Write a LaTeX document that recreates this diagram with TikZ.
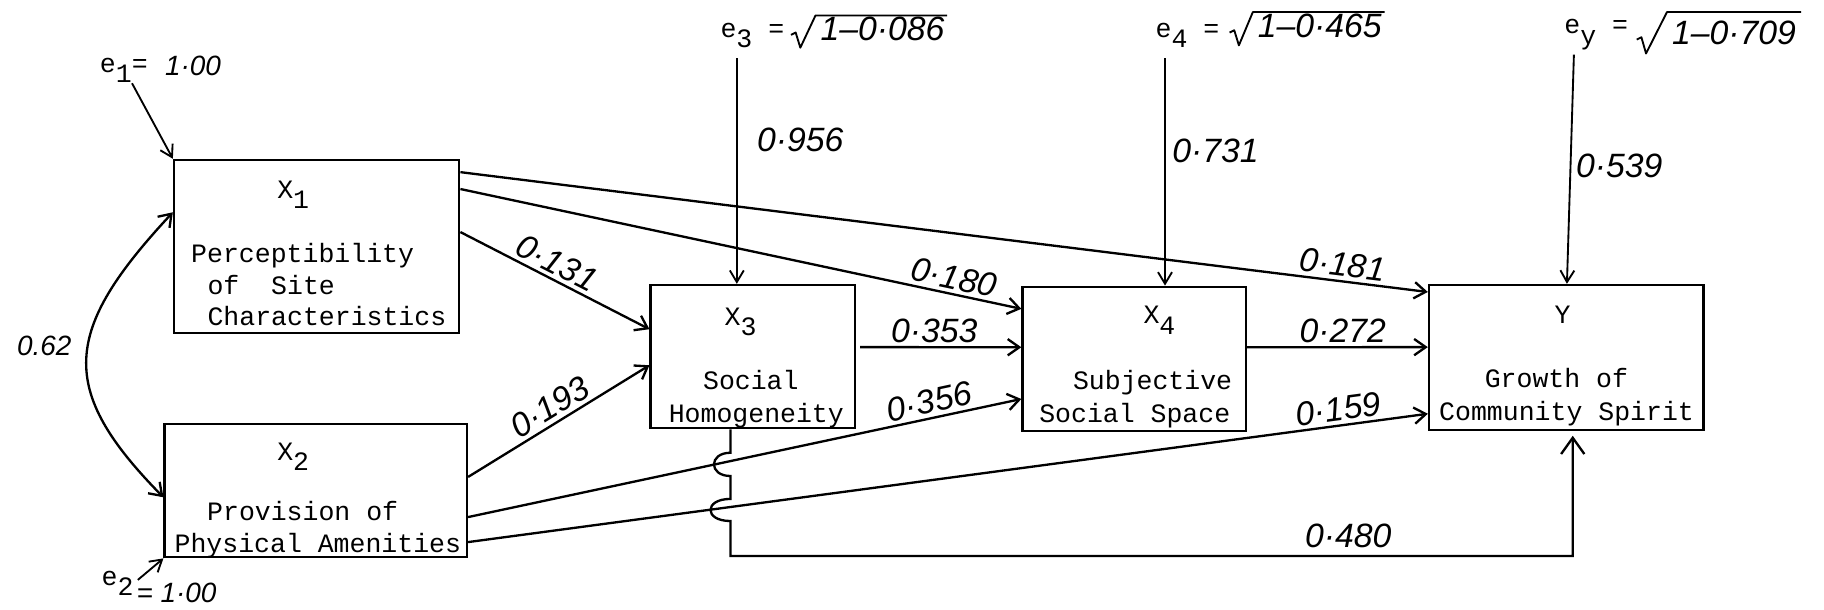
\documentclass[tikz,border=0pt]{standalone}
\usepackage{fontspec}
\setmonofont{Liberation Mono}
\newfontfamily\hand{Liberation Sans}
\usetikzlibrary{arrows.meta,calc}
\newcommand\lsub[2][-4.5pt]{\raisebox{#1}{#2}}
\begin{document}
\begin{tikzpicture}[x=0.5pt,y=-0.5pt,
  box/.style={draw,line width=1pt,inner sep=0pt},
  tw/.style={font=\fontsize{11.4}{13}\ttfamily,inner sep=0pt,anchor=base west},
  hw/.style={font=\fontsize{14.5}{16}\hand\itshape,inner sep=0pt},
  hws/.style={font=\fontsize{12}{14}\hand\itshape,inner sep=0pt},
  coef/.style={font=\fontsize{14.5}{16}\hand\itshape,inner sep=1.5pt,sloped,above},
  conn/.style={line width=1pt,-{Straight Barb[length=5pt,width=7pt]}},
  err/.style={line width=0.8pt,-{Straight Barb[length=5pt,width=6pt]}},
  rad/.style={line width=0.8pt,line join=round},
]
\useasboundingbox (0,0) rectangle (1568,524);

% boxes
\node[box,minimum width=122.6pt,minimum height=74.5pt] (X1) at (272.2,212) {};
\node[box,minimum width=129.95pt,minimum height=57.25pt] (X2) at (271.45,421.75) {};
\node[box,minimum width=87.85pt,minimum height=61.6pt] (X3) at (647.15,306.6) {};
\node[box,minimum width=96pt,minimum height=62pt] (X4) at (975,308.5) {};
\node[box,minimum width=118pt,minimum height=62.3pt] (Y) at (1346.4,307.3) {};

% box texts
\node[tw] (t1a) at (238,170.5) {X\lsub{1}};
\node[tw] (t1b) at (164,225.5) {Perceptibility};
\node[tw] (t1c) at (178,253) {of\ \ Site};
\node[tw] (t1d) at (178,280) {Characteristics};
\node[tw] (t2a) at (238,395.5) {X\lsub{2}};
\node[tw] (t2b) at (177.7,447.5) {Provision of};
\node[tw] (t2c) at (149.7,475) {Physical Amenities};
\node[tw] (t3a) at (622.6,279.5) {X\lsub{3}};
\node[tw] (t3b) at (604,334.5) {Social};
\node[tw] (t3c) at (574.5,363) {Homogeneity};
\node[tw] (t4a) at (982.6,278.3) {X\lsub{4}};
\node[tw] (t4b) at (922,334.5) {Subjective};
\node[tw] (t4c) at (893,363) {Social Space};
\node[tw] (tya) at (1336,278.3) {Y};
\node[tw] (tyb) at (1276,333) {Growth of};
\node[tw] (tyc) at (1236.8,361.8) {Community Spirit};

% error terms
\node[tw] (e1) at (85.5,62) {e\lsub{1}=};
\node[hws,anchor=base west] (e1v) at (141.5,64.5) {1·00};
\node[tw] (e2) at (87,503) {e\lsub{2}};
\node[hws,anchor=base west] (e2v) at (117,518) {= 1·00};

\node[tw] (e3) at (619,32) {e\lsub{3} =};
\node[hw,anchor=base west] (e3v) at (705,35) {1–0·086};
\draw[rad] ($(e3v.base west)+(-25,-5)$) -- ++(4,-2) -- ($(e3v.base west)+(-17,6)$)
  -- ($(e3v.north west)+(-4,-1)$) -- ($(e3v.north east)+(2,-1)$);

\node[tw] (e4) at (993,32) {e\lsub{4} =};
\node[hw,anchor=base west] (e4v) at (1081,32) {1–0·465};
\draw[rad] ($(e4v.base west)+(-24,-4)$) -- ++(4,-2) -- ($(e4v.base west)+(-16,7)$)
  -- ($(e4v.north west)+(-4,-1)$) -- ($(e4v.north east)+(2,-1)$);

\node[tw] (ey) at (1344.5,29) {e\lsub{y} =};
\node[hw,anchor=base west] (eyv) at (1437,38) {1–0·709};
\draw[rad] ($(eyv.base west)+(-30,-4)$) -- ++(4,-2) -- ($(eyv.base west)+(-22,8)$)
  -- ($(eyv.north west)+(-4,-7)$) -- ($(eyv.north east)+(4,-7)$);

\coordinate (e1a) at (113.5,71.6);
\coordinate (e2a) at (118.5,498.5);
\coordinate (e3a) at (633.4,50);
\coordinate (e4a) at (1001.5,50);
\coordinate (eya) at (1353,47);
\draw[err] (e1a) -- (X1.north west);
\draw[err] (e2a) -- (X2.south west);
\draw[err] (e3a) -- (e3a |- X3.north);
\draw[err] (e4a) -- (e4a |- X4.north);
\draw[err] (eya) -- ($(Y.north west)+(119.6,0)$);

% correlation
\draw[line width=1pt,{Straight Barb[length=5pt,width=7pt]}-{Straight Barb[length=5pt,width=7pt]}]
  ($(X1.north west)+(0,46)$) .. controls +(-95,102) and +(-91.5,-93) .. ($(X2.north west)+(0,64)$);
\node[hws] (r12) at (38,297) {0.62};

% paths
\draw[conn] ($(X1.north east)+(0,11.5)$) -- node[coef,pos=0.91] (py1) {0·181} ($(Y.north west)+(0,7)$);
\draw[conn] ($(X1.north east)+(0,26)$) -- node[coef,pos=0.874] (p41) {0·180} ($(X4.north west)+(0,20)$);
\draw[conn] ($(X1.north east)+(0,63)$) -- node[coef,pos=0.47] (p31) {0·131} ($(X3.north west)+(0,39)$);
\draw[conn] ($(X2.north east)+(0,46.5)$) -- node[coef,pos=0.5] (p32) {0·193} ($(X3.north west)+(0,70)$);
\draw[conn] ($(X2.north east)+(0,81)$) -- node[coef,pos=0.84] (p42) {0·356} ($(X4.north west)+(0,97.5)$);
\draw[conn] ($(X2.north east)+(0,102.5)$) -- node[coef,pos=0.909] (py2) {0·159} ($(Y.north west)+(0,111.7)$);
\draw[conn] ($(X3.north east)+(3.5,54.4)$) -- node[coef,pos=0.46] (p43) {0·353} ($(X4.north west)+(0,53)$);
\draw[conn] ($(X4.north east)+(0,53)$) -- node[coef,pos=0.53] (py4) {0·272} ($(Y.north west)+(0,54.4)$);

\coordinate (j) at ($(X3.south west)+(69.7,0)$);
\coordinate (yb) at ($(Y.south west)+(124.6,0)$);
\draw[line width=1pt,-{Straight Barb[length=7pt,width=10pt]},shorten >=2pt]
  (j) -- ++(0,20) .. controls +(-19,0) and +(-19,0) .. ++(0,20)
  -- ++(0,19.7) .. controls +(-23,0) and +(-23,0) .. ++(0,19)
  -- ++(0,30) -| (yb);

% other coefficients
\node[hw] (py3) at (1159,461) {0·480};
\node[hw] (p3e) at (688,120) {0·956};
\node[hw] (p4e) at (1045,130) {0·731};
\node[hw] (pye) at (1392,143) {0·539};
\end{tikzpicture}
\end{document}
